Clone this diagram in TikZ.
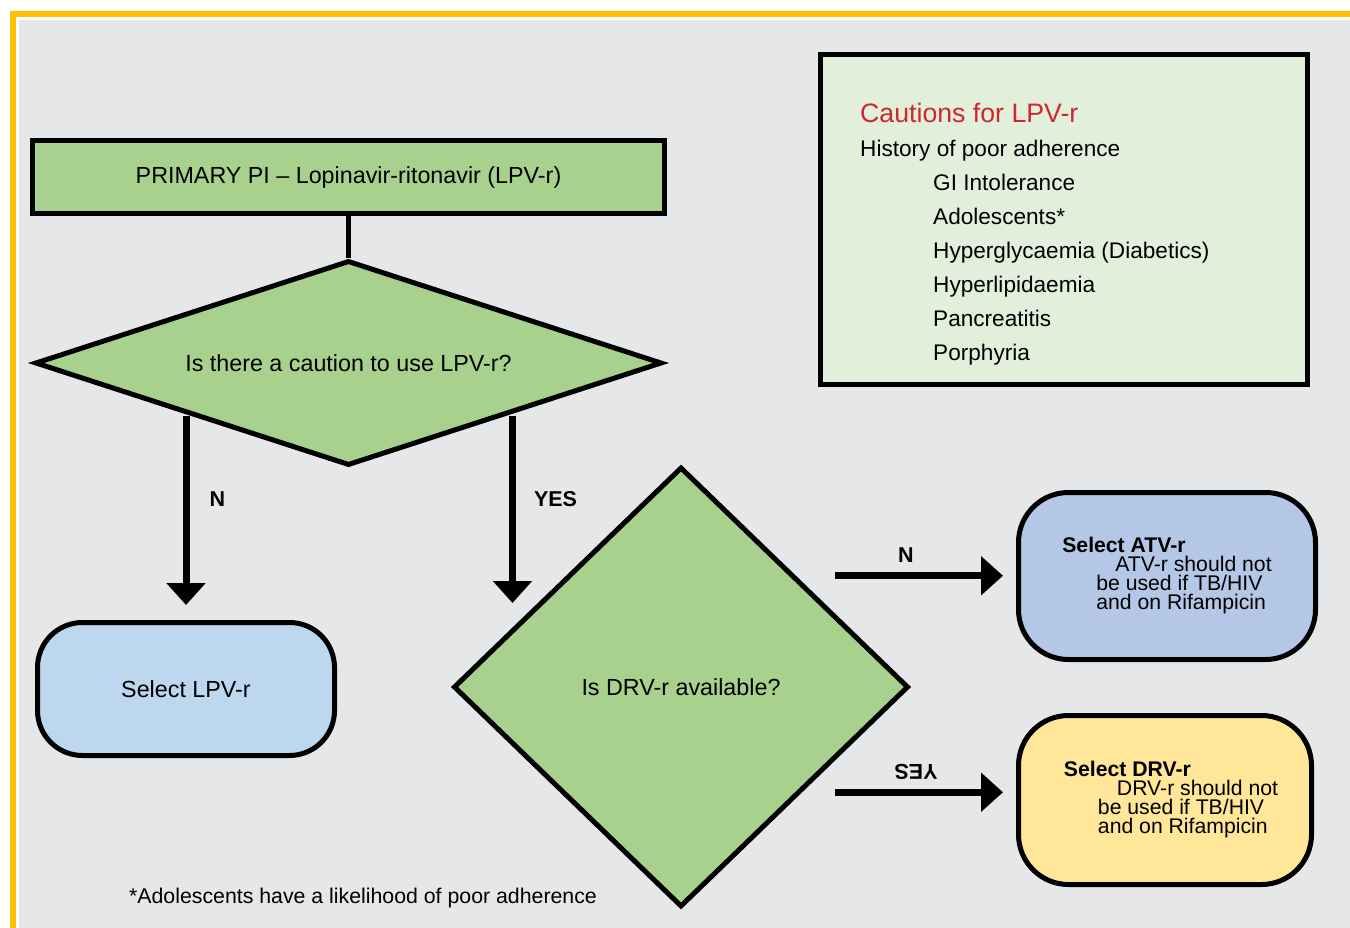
\documentclass[tikz,border=0pt]{standalone}
\usepackage{fontspec}
\setmainfont{Liberation Sans}
\usepackage{tikz}
\usetikzlibrary{shapes.geometric, arrows.meta}
\definecolor{frame}{HTML}{FFC000}
\definecolor{canvas}{HTML}{E6E7E9}
\definecolor{leaf}{HTML}{A9D18E}
\definecolor{mint}{HTML}{E2EFDA}
\definecolor{sky}{HTML}{BDD7EE}
\definecolor{steel}{HTML}{B4C7E7}
\definecolor{butter}{HTML}{FFE699}
\definecolor{warn}{HTML}{D0262F}

\begin{document}
\begin{tikzpicture}[x=1pt, y=-1pt,
  every node/.style={font=\fontsize{23.3}{28}\selectfont, text=black},
  block/.style={rectangle, draw=black, line width=5pt, inner sep=0pt},
  choice/.style={diamond, draw=black, fill=leaf, line width=5pt, inner sep=0pt},
  pick/.style={block, rounded corners=45pt},
  note/.style={block, rounded corners=50pt, align=left, font=\fontsize{21.2}{19}\selectfont},
  lbl/.style={font=\fontsize{21.5}{24}\selectfont\bfseries, inner sep=0pt},
  arr/.style={-{Triangle[width=38pt, length=22pt]}, line width=7pt}
]
  \useasboundingbox (0,0) rectangle (1350,928);
  \clip (0,0) rectangle (1350,928);
  \fill[white] (0,0) rectangle (1350,928);
  \draw[frame, line width=6pt] (13,14.5) rectangle (1400,1000);
  \fill[canvas] (19,20) rectangle (1350,928);

  \node[block, fill=leaf, minimum width=632pt, minimum height=73pt] (prim) at (348.5,177)
    {PRIMARY PI – Lopinavir-ritonavir (LPV-r)};
  \node[choice, aspect=3, minimum width=627pt, minimum height=205pt] (Q1) at (348.5,363)
    {Is there a caution to use LPV-r?};
  \node[pick, fill=sky, minimum width=297pt, minimum height=133pt] (lpv) at (186,689) {Select LPV-r};
  \node[choice, aspect=1, minimum width=455pt, minimum height=440pt] (Q2) at (681,687) {Is DRV-r available?};

  \node[note, fill=steel, minimum width=297pt, minimum height=167pt] (atv) at (1167,576)
    {\textbf{Select ATV-r}\\\hspace*{53pt}ATV-r should not\\\hspace*{34pt}be used if TB/HIV\\\hspace*{34pt}and on Rifampicin};
  \node[note, fill=butter, minimum width=293pt, minimum height=169pt] (drv) at (1165,800)
    {\hspace*{12pt}\textbf{Select DRV-r}\\\hspace*{65pt}DRV-r should not\\\hspace*{46pt}be used if TB/HIV\\\hspace*{46pt}and on Rifampicin};

  % cautions panel
  \node[block, fill=mint, minimum width=487pt, minimum height=330pt] (caut) at (1064,219.5) {};
  \node[anchor=north west, inner sep=0pt, align=left, font=\fontsize{22.6}{34}\selectfont] (cautlist) at (860,103)
    {{\color{warn}\fontsize{26.7}{34}\selectfont Cautions for LPV-r}\\
     History of poor adherence\\
     \hspace*{73pt}GI Intolerance\\
     \hspace*{73pt}Adolescents*\\
     \hspace*{73pt}Hyperglycaemia (Diabetics)\\
     \hspace*{73pt}Hyperlipidaemia\\
     \hspace*{73pt}Pancreatitis\\
     \hspace*{73pt}Porphyria};

  \node[font=\fontsize{21.3}{24}\selectfont] (foot) at (363,898) {*Adolescents have a likelihood of poor adherence};

  \draw[line width=5pt] (prim) -- (Q1);
  \draw[arr, shorten >=15pt] (lpv.north |- Q1.south west) -- (lpv.north)
    node[lbl, pos=.41, right=20pt] {N};
  \draw[arr, shorten >=17pt] ([xshift=6pt]Q1.south east) -- ([xshift=6pt]Q1.south east |- lpv.north)
    node[lbl, pos=.41, right=18pt] {YES};
  \draw[arr, shorten <=39pt, shorten >=13pt] (Q2.north east) -- (Q2.north east -| atv.west)
    node[lbl, pos=.5, above=10pt] {N};
  \draw[arr, shorten <=39pt, shorten >=13pt] ([yshift=6pt]Q2.south east) -- ([yshift=6pt]Q2.south east -| drv.west);
  \node[lbl, rotate=180] (yes2) at (916,771.5) {YES};
\end{tikzpicture}
\end{document}
